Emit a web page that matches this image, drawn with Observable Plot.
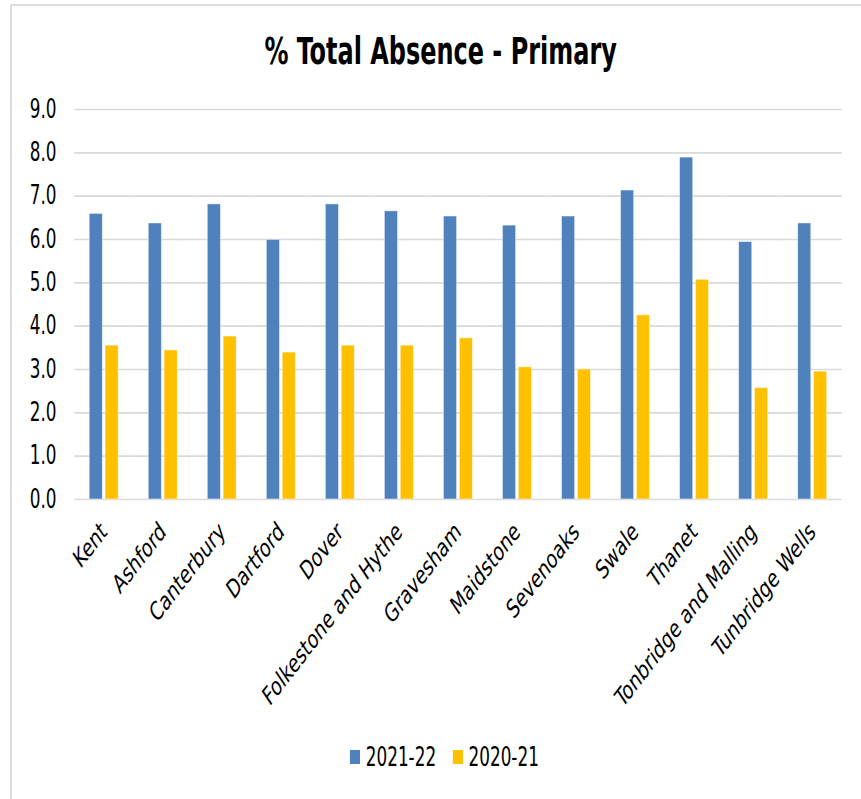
<!DOCTYPE html>
<html>
<head>
<meta charset="utf-8">
<script src="https://cdn.jsdelivr.net/npm/d3@7"></script>
<script src="https://cdn.jsdelivr.net/npm/@observablehq/plot@0.6"></script>
<style>
  html, body { margin: 0; padding: 0; background: #fff; }
  #frame { position: relative; width: 861px; height: 799px; overflow: hidden; background: #fff; }
  #border { position: absolute; left: 10px; top: 4px; right: -20px; bottom: -20px;
            border-left: 2px solid #dcdcdc; border-top: 2px solid #dcdcdc; }
  #squish { position: absolute; left: 0; top: 0; width: 1196px; height: 799px;
            transform: scaleX(0.72); transform-origin: 0 0;
            font-family: "DejaVu Sans Condensed", "DejaVu Sans", sans-serif; font-stretch: condensed; color: #000; }
  #title { position: absolute; top: 33px; left: 14px; width: 1196px; text-align: center;
           font-size: 37px; line-height: 37px; font-weight: bold; }
  #chart { position: absolute; top: 100px; left: 0; }
  #legend { position: absolute; top: 737px; left: 486px; height: 40px; display: flex; align-items: center;
            font-size: 26px; line-height: 40px; white-space: nowrap; }
  #legend .sw { display: inline-block; width: 14px; height: 14px; margin-right: 8px; }
  #legend .lab { margin-right: 23px; }
</style>
</head>
<body>
<div id="frame">
  <div id="border"></div>
  <div id="squish">
    <div id="title">% Total Absence - Primary</div>
    <div id="chart"></div>
    <div id="legend"></div>
  </div>
</div>
<script>
const categories = ["Kent", "Ashford", "Canterbury", "Dartford", "Dover", "Folkestone and Hythe",
  "Gravesham", "Maidstone", "Sevenoaks", "Swale", "Thanet", "Tonbridge and Malling", "Tunbridge Wells"];
const series = ["2021-22", "2020-21"];
const values2021_22 = [6.59, 6.37, 6.81, 5.99, 6.81, 6.65, 6.53, 6.32, 6.53, 7.13, 7.89, 5.94, 6.37];
const values2020_21 = [3.55, 3.44, 3.76, 3.39, 3.55, 3.55, 3.72, 3.05, 3.00, 4.25, 5.07, 2.57, 2.95];
const colors = ["#4f81bd", "#ffc000"];
const yTicks = [0, 1, 2, 3, 4, 5, 6, 7, 8, 9];

const data = categories.flatMap((c, i) => [
  {category: c, series: series[0], value: values2021_22[i]},
  {category: c, series: series[1], value: values2020_21[i]}
]);

const font = '"DejaVu Sans Condensed", "DejaVu Sans", sans-serif';

const chart = Plot.plot({
  width: 1196,
  height: 640,
  marginLeft: 99,
  marginRight: 24,
  marginTop: 9,
  marginBottom: 241,
  style: {fontFamily: font, color: "#000", background: "transparent", overflow: "visible", maxWidth: "none"},
  fx: {domain: categories, padding: 0, label: null},
  x: {domain: series, paddingInner: 0.2, paddingOuter: 0.9, axis: null},
  y: {domain: [0, 9], label: null},
  color: {domain: series, range: colors},
  marks: [
    Plot.ruleY(yTicks, {stroke: "#d9d9d9", strokeWidth: 1.6}),
    Plot.barY(data, {fx: "category", x: "series", y: "value", fill: "series",
      stroke: "#ffffff", strokeOpacity: 0.45, strokeWidth: 1}),
    Plot.axisY(yTicks, {tickFormat: d => d.toFixed(1), tickSize: 0, tickPadding: 25,
      fontSize: 26, label: null}),
    Plot.axisFx({anchor: "bottom", tickRotate: -43, tickSize: 0, tickPadding: 28,
      fontSize: 26, label: null})
  ]
});
document.getElementById("chart").appendChild(chart);

const legend = document.getElementById("legend");
series.forEach((s, i) => {
  const sw = document.createElement("span");
  sw.className = "sw";
  sw.style.background = colors[i];
  const lab = document.createElement("span");
  lab.className = "lab";
  lab.textContent = s;
  legend.appendChild(sw);
  legend.appendChild(lab);
});
</script>
</body>
</html>
